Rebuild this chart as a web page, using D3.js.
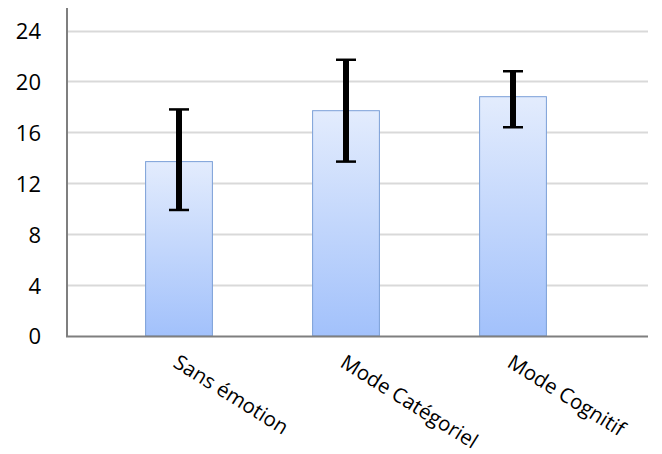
<!DOCTYPE html>
<html><head><meta charset="utf-8">
<script src="https://cdn.jsdelivr.net/npm/d3@7"></script>
<style>body{margin:0;background:#fff}svg{display:block}</style>
</head><body>
<svg id="c" width="662" height="454"></svg>
<script>
const categories = ["Sans émotion", "Mode Catégoriel", "Mode Cognitif"];
const means = [13.7, 17.7, 18.8];
const errLow = [9.9, 13.7, 16.4];
const errHigh = [17.8, 21.7, 20.8];
const yTicks = [0, 4, 8, 12, 16, 20, 24];

(function(){
const svg = d3.select("#c");
const pLeft = 67, pRight = 648, pTop = 8, pBottom = 336;
const y = d3.scaleLinear().domain([0, 24]).range([pBottom, 30.5]);
const x = d3.scaleBand().domain(categories).range([95.5, 596.5]).paddingInner(0.6).paddingOuter(0.3);

const defs = svg.append("defs");
const g = defs.append("linearGradient").attr("id","bg").attr("x1",0).attr("y1",0).attr("x2",0).attr("y2",1);
g.append("stop").attr("offset","0%").attr("stop-color","#e3ecfd");
g.append("stop").attr("offset","100%").attr("stop-color","#a2c1fb");

// gridlines
svg.append("g").selectAll("line").data(yTicks.filter(d=>d>0)).join("line")
  .attr("x1", pLeft).attr("x2", pRight)
  .attr("y1", d=>Math.round(y(d))+0.5).attr("y2", d=>Math.round(y(d))+0.5)
  .attr("stroke","#d9d9d9").attr("stroke-width",2);

// y axis
const yAxis = d3.axisLeft(y).tickValues(yTicks).tickSize(0).tickPadding(0);
const ya = svg.append("g").attr("transform",`translate(${pLeft},0)`).call(yAxis);
ya.select(".domain").remove();
ya.selectAll("text").attr("x",-26).attr("font-family","'Open Sans', sans-serif").attr("font-size",22).attr("fill","#000").attr("dy","0.36em");
svg.append("line").attr("x1",pLeft).attr("x2",pLeft).attr("y1",pTop).attr("y2",pBottom+1).attr("stroke","#7f7f7f").attr("stroke-width",2);

// bars
svg.append("g").selectAll("rect").data(categories).join("rect")
  .attr("x", d=>x(d)).attr("width", x.bandwidth())
  .attr("y", (d,i)=>y(means[i])).attr("height",(d,i)=>pBottom - y(means[i]))
  .attr("fill","url(#bg)").attr("stroke","#7b9fd8").attr("stroke-width",1);

// x axis line
svg.append("line").attr("x1",pLeft-1).attr("x2",pRight).attr("y1",pBottom+0.5).attr("y2",pBottom+0.5).attr("stroke","#7f7f7f").attr("stroke-width",2);

// error bars
const eb = svg.append("g");
categories.forEach((c,i)=>{
  const cx = x(c) + x.bandwidth()/2;
  eb.append("line").attr("x1",cx).attr("x2",cx).attr("y1",y(errHigh[i])).attr("y2",y(errLow[i])).attr("stroke","#000").attr("stroke-width",6);
  [errHigh[i], errLow[i]].forEach(v=>{
    eb.append("line").attr("x1",cx-10).attr("x2",cx+10).attr("y1",y(v)).attr("y2",y(v)).attr("stroke","#000").attr("stroke-width",2.5);
  });
});

// category labels
svg.append("g").selectAll("text").data(categories).join("text")
  .attr("transform", d=>`translate(${x(d)+x.bandwidth()/2-7},${pBottom+30}) rotate(32)`)
  .attr("font-family","'Open Sans', sans-serif").attr("font-size",20.5).attr("fill","#000")
  .text(d=>d);
})();
</script>
</body></html>
